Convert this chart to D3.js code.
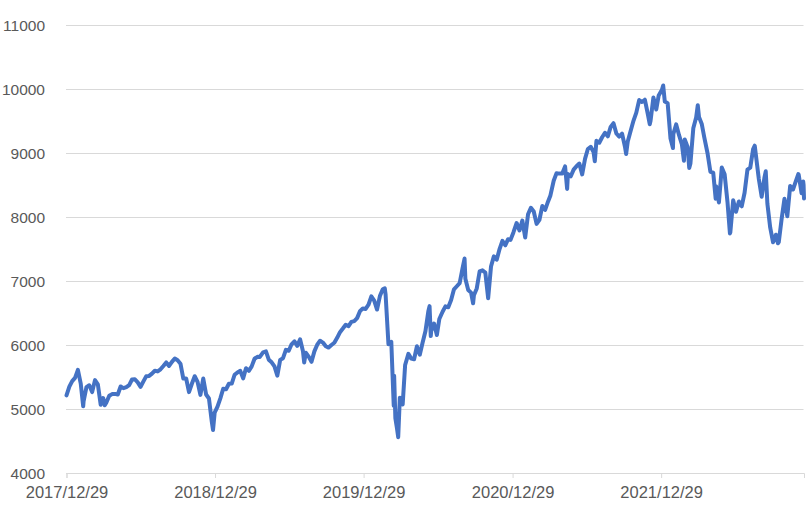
<!DOCTYPE html>
<html>
<head>
<meta charset="utf-8">
<script src="https://cdn.jsdelivr.net/npm/d3@7"></script>
<style>
  html, body { margin: 0; padding: 0; background: #ffffff; }
  svg { display: block; }
  .axis text { font-family: "Liberation Sans", Arial, sans-serif; fill: #595959; }
</style>
</head>
<body>
<svg id="chart" width="812" height="507"></svg>
<script>
// ---- data ----
const dates = [
"2017-12-29","2018-01-05","2018-01-12","2018-01-19","2018-01-26","2018-02-02","2018-02-08","2018-02-09","2018-02-16","2018-02-23",
"2018-03-02","2018-03-09","2018-03-16","2018-03-23","2018-03-29","2018-04-02","2018-04-06","2018-04-13","2018-04-20","2018-04-27",
"2018-05-04","2018-05-11","2018-05-18","2018-05-25","2018-06-01","2018-06-08","2018-06-15","2018-06-22","2018-06-29","2018-07-06",
"2018-07-13","2018-07-20","2018-07-27","2018-08-03","2018-08-10","2018-08-17","2018-08-24","2018-08-31","2018-09-07","2018-09-14",
"2018-09-21","2018-09-28","2018-10-05","2018-10-12","2018-10-19","2018-10-26","2018-11-02","2018-11-09","2018-11-16","2018-11-23",
"2018-11-30","2018-12-07","2018-12-14","2018-12-21","2018-12-24","2018-12-28",
"2019-01-04","2019-01-11","2019-01-18","2019-01-25","2019-02-01","2019-02-08","2019-02-15","2019-02-22","2019-03-01","2019-03-08",
"2019-03-15","2019-03-22","2019-03-29","2019-04-05","2019-04-12","2019-04-18","2019-04-26","2019-05-03","2019-05-10","2019-05-17",
"2019-05-24","2019-05-31","2019-06-07","2019-06-14","2019-06-21","2019-06-28","2019-07-05","2019-07-12","2019-07-19","2019-07-26",
"2019-08-02","2019-08-05","2019-08-09","2019-08-16","2019-08-23","2019-08-30","2019-09-06","2019-09-13","2019-09-20","2019-09-27",
"2019-10-04","2019-10-11","2019-10-18","2019-10-25","2019-11-01","2019-11-08","2019-11-15","2019-11-22","2019-11-29","2019-12-06",
"2019-12-13","2019-12-20","2019-12-27",
"2020-01-03","2020-01-10","2020-01-17","2020-01-24","2020-01-31","2020-02-07","2020-02-14","2020-02-19","2020-02-21","2020-02-28",
"2020-03-06","2020-03-12","2020-03-13","2020-03-16","2020-03-20","2020-03-23","2020-03-27","2020-04-03","2020-04-09","2020-04-17",
"2020-04-24","2020-05-01","2020-05-08","2020-05-15","2020-05-22","2020-05-29","2020-06-05","2020-06-08","2020-06-11","2020-06-12",
"2020-06-19","2020-06-26","2020-07-02","2020-07-10","2020-07-17","2020-07-24","2020-07-31","2020-08-07","2020-08-14","2020-08-21",
"2020-08-28","2020-09-02","2020-09-04","2020-09-11","2020-09-18","2020-09-23","2020-09-25","2020-10-02","2020-10-09","2020-10-16",
"2020-10-23","2020-10-30","2020-11-06","2020-11-13","2020-11-20","2020-11-27","2020-12-04","2020-12-11","2020-12-18","2020-12-24",
"2020-12-31",
"2021-01-08","2021-01-15","2021-01-22","2021-01-29","2021-02-05","2021-02-12","2021-02-19","2021-02-26","2021-03-05","2021-03-12",
"2021-03-19","2021-03-26","2021-04-01","2021-04-09","2021-04-16","2021-04-23","2021-04-30","2021-05-07","2021-05-12","2021-05-14",
"2021-05-21","2021-05-28","2021-06-04","2021-06-11","2021-06-18","2021-06-25","2021-07-02","2021-07-09","2021-07-16","2021-07-19",
"2021-07-23","2021-07-30","2021-08-06","2021-08-13","2021-08-20","2021-08-27","2021-09-03","2021-09-10","2021-09-17","2021-09-24",
"2021-10-01","2021-10-04","2021-10-08","2021-10-15","2021-10-22","2021-10-29","2021-11-05","2021-11-12","2021-11-19","2021-11-26",
"2021-12-01","2021-12-03","2021-12-10","2021-12-17","2021-12-23","2021-12-31",
"2022-01-03","2022-01-07","2022-01-14","2022-01-21","2022-01-27","2022-01-28","2022-02-04","2022-02-11","2022-02-18","2022-02-23",
"2022-02-25","2022-03-04","2022-03-08","2022-03-11","2022-03-18","2022-03-25","2022-03-29","2022-04-01","2022-04-08","2022-04-14",
"2022-04-22","2022-04-29","2022-05-06","2022-05-12","2022-05-13","2022-05-20","2022-05-27","2022-06-03","2022-06-10","2022-06-16",
"2022-06-17","2022-06-24","2022-07-01","2022-07-08","2022-07-15","2022-07-22","2022-07-29","2022-08-05","2022-08-12","2022-08-16",
"2022-08-19","2022-08-26","2022-09-02","2022-09-09","2022-09-12","2022-09-16","2022-09-23","2022-09-30","2022-10-07","2022-10-12",
"2022-10-14","2022-10-21","2022-10-28","2022-11-04","2022-11-11","2022-11-18","2022-11-25","2022-12-01","2022-12-02","2022-12-09",
"2022-12-13","2022-12-14","2022-12-15"
];
const values = [
5213,5349,5436,5486,5611,5397,5043,5119,5341,5371,
5264,5451,5386,5065,5171,5058,5102,5206,5233,5236,
5226,5352,5326,5342,5374,5461,5465,5416,5347,5431,
5513,5517,5553,5598,5587,5620,5672,5728,5672,5737,
5789,5761,5708,5476,5477,5264,5394,5512,5423,5220,
5476,5227,5164,4802,4672,4942,
5036,5167,5317,5308,5394,5397,5535,5571,5596,5478,
5637,5596,5666,5785,5815,5813,5886,5900,5771,5730,
5666,5521,5767,5794,5925,5910,6011,6058,5986,6088,
5902,5726,5878,5818,5737,5900,6005,6066,6038,5980,
5960,6000,6035,6112,6201,6257,6316,6295,6361,6374,
6420,6529,6571,
6564,6629,6759,6693,6554,6765,6872,6887,6789,6012,
6049,5051,5520,4858,4695,4558,5177,5072,5688,5861,
5787,5778,5980,5848,6038,6219,6528,6607,6139,6219,
6335,6156,6407,6520,6604,6589,6702,6870,6918,6968,
7198,7351,7035,6859,6818,6652,6778,6884,7149,7166,
7132,6730,7226,7385,7332,7499,7628,7558,7653,7643,
7759,
7906,7789,7944,7681,8042,8145,8087,7893,7957,8171,
8112,8239,8337,8567,8685,8678,8680,8791,8439,8673,
8636,8740,8794,8835,8666,8908,9062,9097,9013,8870,
9190,9160,9246,9316,9261,9407,9465,9305,9256,9303,
9102,8984,9178,9345,9503,9630,9827,9797,9833,9617,
9450,9503,9867,9680,9900,9987,
10054,9803,9778,9227,9077,9298,9447,9279,9133,8878,
9212,9095,8767,8837,9386,9554,9745,9564,9448,9246,
8996,8706,8692,8285,8482,8228,8774,8669,8235,7744,
7761,8262,8083,8243,8167,8379,8740,8771,9061,9114,
8956,8594,8316,8623,8714,8211,7833,7605,7723,7590,
7607,7967,8286,8012,8485,8430,8560,8671,8660,8372,
8554,8501,8290
];
const yTickValues = [4000, 5000, 6000, 7000, 8000, 9000, 10000, 11000];
const xTickDates = ["2017-12-29", "2018-12-29", "2019-12-29", "2020-12-29", "2021-12-29"];
const xTickLabels = ["2017/12/29", "2018/12/29", "2019/12/29", "2020/12/29", "2021/12/29"];
const xDomain = ["2017-12-29", "2022-12-15"];

// ---- chart ----
const parse = d3.timeParse("%Y-%m-%d");
const data = dates.map((d, i) => ({ date: parse(d), v: values[i] }));

const m = { left: 66.5, right: 804, top: 25, bottom: 473 };
const svg = d3.select("#chart");

const x = d3.scaleTime().domain(xDomain.map(parse)).range([m.left, m.right]);
const y = d3.scaleLinear().domain([4000, 11000]).range([m.bottom, m.top]);

// gridlines + y labels
const yAxis = svg.append("g")
  .attr("class", "axis y-axis")
  .attr("transform", `translate(${m.left - 0.5},0)`)
  .call(d3.axisLeft(y).tickValues(yTickValues).tickSize(-(m.right - m.left)).tickPadding(21).tickFormat(d3.format("d")));
yAxis.select(".domain").remove();
yAxis.selectAll(".tick line").attr("stroke", "#d9d9d9").attr("stroke-width", 1);
yAxis.selectAll(".tick text").style("font-size", "15.5px").attr("dy", "0.33em");

// x axis
const tickDates = xTickDates.map(parse);
const xAxis = svg.append("g")
  .attr("class", "axis x-axis")
  .attr("transform", `translate(0,${m.bottom})`)
  .call(d3.axisBottom(x).tickValues(tickDates).tickSize(5).tickPadding(8)
        .tickFormat((d, i) => xTickLabels[i]));
xAxis.select(".domain").attr("stroke", "#d9d9d9");
xAxis.selectAll(".tick line").attr("stroke", "#d9d9d9");
xAxis.selectAll(".tick text").style("font-size", "16.5px");

// series line
const line = d3.line().x(d => x(d.date)).y(d => y(d.v));
svg.append("path")
  .datum(data)
  .attr("fill", "none")
  .attr("stroke", "#4472C4")
  .attr("stroke-width", 4)
  .attr("stroke-linejoin", "round")
  .attr("stroke-linecap", "round")
  .attr("d", line);
</script>
</body>
</html>
